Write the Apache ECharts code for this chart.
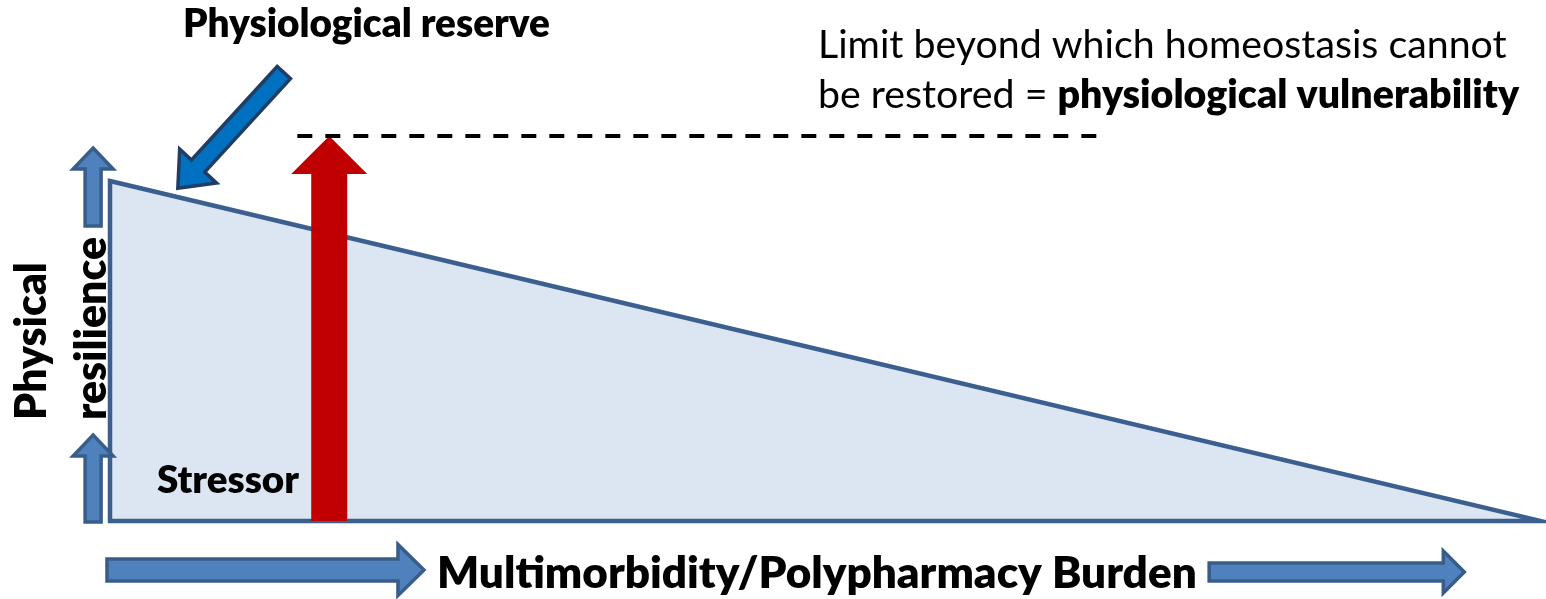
<!DOCTYPE html>
<html>
<head>
<meta charset="utf-8">
<script src="https://cdn.jsdelivr.net/npm/echarts@6/dist/echarts.min.js"></script>
<style>
html,body{margin:0;padding:0;background:#fff;}
#chart{width:1546px;height:599px;}
</style>
</head>
<body>
<div id="chart"></div>
<script>
// ---- data (x: multimorbidity/polypharmacy burden, y: physical resilience) ----
const triangleX = [0, 100, 0];
const triangleY = [100, 0, 0];
const stressorX = 15.32;
const stressorLevel = 113.2;          // stressor reaches the limit
const limitY = 113.2;
const limitLineX = [13.09, 68.94];
const reserveArrowFrom = [12.15, 131.9];
const reserveArrowTo = [4.74, 97.9];
const axisArrowsFrom = [[-1.18, 86.8], [-1.18, -0.3], [-0.21, -14.4], [76.81, -15.0]];
const axisArrowsTo   = [[-1.18, 109.7], [-1.18, 25.3], [21.94, -14.4], [94.64, -15.0]];
const labels = {
  reserve: 'Physiological reserve',
  limit1: 'Limit beyond which homeostasis cannot',
  limit2a: 'be restored = ',
  limit2b: 'physiological vulnerability',
  stressor: 'Stressor',
  yName1: 'Physical',
  yName2: 'resilience',
  xName: 'Multimorbidity/Polypharmacy Burden'
};

// ---- helpers ----
const FONT = 'Lato';
const BOLD = '800';
const cv = document.createElement('canvas').getContext('2d');
function textW(t, weight, size) { cv.font = weight + ' ' + size + 'px ' + FONT; return cv.measureText(t).width; }
function fit(t, weight, target) { return 100 * target / textW(t, weight, 100); }

function arrowPoints(p0, p1, shaft, headW, headL) {
  const dx = p1[0] - p0[0], dy = p1[1] - p0[1];
  const len = Math.sqrt(dx * dx + dy * dy);
  const ux = dx / len, uy = dy / len, nx = -uy, ny = ux;
  const b = [p1[0] - ux * headL, p1[1] - uy * headL];
  const s = shaft / 2, h = headW / 2;
  return [
    [p0[0] + nx * s, p0[1] + ny * s],
    [b[0] + nx * s, b[1] + ny * s],
    [b[0] + nx * h, b[1] + ny * h],
    [p1[0], p1[1]],
    [b[0] - nx * h, b[1] - ny * h],
    [b[0] - nx * s, b[1] - ny * s],
    [p0[0] - nx * s, p0[1] - ny * s]
  ];
}

const axisArrowStyle = [
  { shaft: 16, headW: 40, headL: 21 },
  { shaft: 16, headW: 40, headL: 21 },
  { shaft: 22, headW: 51, headL: 26 },
  { shaft: 18, headW: 42, headL: 21 }
];

const sizeReserve = fit(labels.reserve, BOLD, 367);
const sizeLimit = fit(labels.limit1, 'normal', 689);
const sizeStressor = fit(labels.stressor, BOLD, 142);
const sizeY = fit(labels.yName2, BOLD, 183);
const sizeX = fit(labels.xName, BOLD, 760);

const chart = echarts.init(document.getElementById('chart'), null, { renderer: 'canvas' });

const option = {
  animation: false,
  backgroundColor: '#ffffff',
  grid: { left: 110, right: 5, top: 79, bottom: 78 },
  xAxis: { type: 'value', min: 0, max: 100, show: false },
  yAxis: { type: 'value', min: 0, max: 130, show: false },
  series: [
    {
      type: 'custom', name: 'resilience', z: 1, clip: false,
      data: [0],
      renderItem: function (params, api) {
        const pts = triangleX.map((x, i) => api.coord([x, triangleY[i]]));
        return {
          type: 'polygon',
          shape: { points: pts },
          style: { fill: '#DCE6F2', stroke: '#3B5F8E', lineWidth: 4.5, lineJoin: 'miter' }
        };
      }
    },
    {
      type: 'custom', name: 'axisArrows', z: 2, clip: false,
      data: axisArrowsFrom.map((f, i) => [f[0], f[1], axisArrowsTo[i][0], axisArrowsTo[i][1]]),
      renderItem: function (params, api) {
        const p0 = api.coord([api.value(0), api.value(1)]);
        const p1 = api.coord([api.value(2), api.value(3)]);
        const st = axisArrowStyle[params.dataIndex];
        return {
          type: 'polygon',
          shape: { points: arrowPoints(p0, p1, st.shaft, st.headW, st.headL) },
          style: { fill: '#4F81BD', stroke: '#385D8A', lineWidth: 3.5, lineJoin: 'miter' }
        };
      }
    },
    {
      type: 'custom', name: 'stressor', z: 3, clip: false,
      data: [[stressorX, 0, stressorX, stressorLevel]],
      renderItem: function (params, api) {
        const p0 = api.coord([api.value(0), api.value(1)]);
        const p1 = api.coord([api.value(2), api.value(3)]);
        return {
          type: 'polygon',
          shape: { points: arrowPoints(p0, p1, 36, 76, 38) },
          style: { fill: '#C00000' }
        };
      }
    },
    {
      type: 'custom', name: 'reserve', z: 3, clip: false,
      data: [[reserveArrowFrom[0], reserveArrowFrom[1], reserveArrowTo[0], reserveArrowTo[1]]],
      renderItem: function (params, api) {
        const p0 = api.coord([api.value(0), api.value(1)]);
        const p1 = api.coord([api.value(2), api.value(3)]);
        return {
          type: 'polygon',
          shape: { points: arrowPoints(p0, p1, 18, 50, 30) },
          style: { fill: '#0070C0', stroke: '#213D63', lineWidth: 3.5, lineJoin: 'miter' }
        };
      }
    },
    {
      type: 'line', name: 'limit', z: 4, symbol: 'none', silent: true,
      data: [[limitLineX[0], limitY], [limitLineX[1], limitY]],
      lineStyle: { color: '#000000', width: 4, type: [15, 13] }
    }
  ],
  graphic: [
    { type: 'text', x: 183, y: 25, z: 10,
      style: { text: labels.reserve, font: BOLD + ' ' + sizeReserve + 'px ' + FONT, fill: '#000', textAlign: 'left', textVerticalAlign: 'middle' } },
    { type: 'text', x: 818, y: 45, z: 10,
      style: { text: labels.limit1, font: 'normal ' + sizeLimit + 'px ' + FONT, fill: '#000', textAlign: 'left', textVerticalAlign: 'middle' } },
    { type: 'text', x: 818, y: 95, z: 10,
      style: {
        text: '{n|' + labels.limit2a + '}{b|' + labels.limit2b + '}',
        textAlign: 'left', textVerticalAlign: 'middle',
        rich: {
          n: { fontFamily: FONT, fontWeight: 'normal', fontSize: sizeLimit, fill: '#000', color: '#000' },
          b: { fontFamily: FONT, fontWeight: BOLD, fontSize: sizeLimit, fill: '#000', color: '#000' }
        }
      } },
    { type: 'text', x: 157, y: 481, z: 10,
      style: { text: labels.stressor, font: BOLD + ' ' + sizeStressor + 'px ' + FONT, fill: '#000', textAlign: 'left', textVerticalAlign: 'middle' } },
    { type: 'text', x: 32, y: 420, rotation: Math.PI / 2, z: 10,
      style: { text: labels.yName1, font: BOLD + ' ' + sizeY + 'px ' + FONT, fill: '#000', textAlign: 'left', textVerticalAlign: 'middle' } },
    { type: 'text', x: 92, y: 420, rotation: Math.PI / 2, z: 10,
      style: { text: labels.yName2, font: BOLD + ' ' + sizeY + 'px ' + FONT, fill: '#000', textAlign: 'left', textVerticalAlign: 'middle' } },
    { type: 'text', x: 437, y: 574, z: 10,
      style: { text: labels.xName, font: BOLD + ' ' + sizeX + 'px ' + FONT, fill: '#000', textAlign: 'left', textVerticalAlign: 'middle' } }
  ]
};
chart.setOption(option);
</script>
</body>
</html>
